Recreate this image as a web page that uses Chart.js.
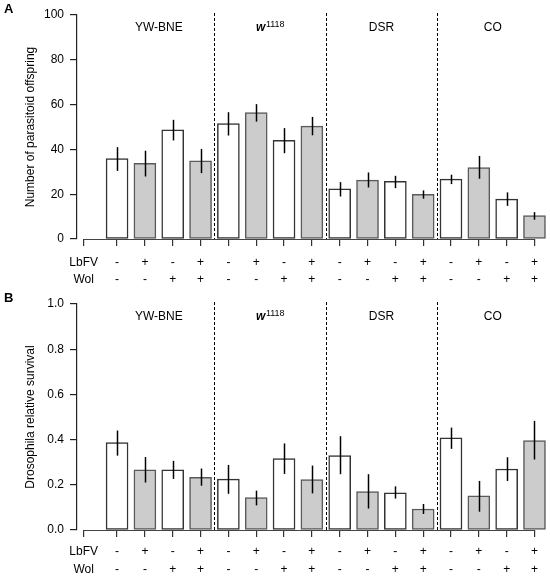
<!DOCTYPE html>
<html lang="en">
<head>
  <meta charset="UTF-8">
  <title>Parasitoid offspring and Drosophila survival</title>
  <style>
    body { margin: 0; background: #fff; }
    .panel { position: absolute; left: 0; width: 550px; height: 288px; }
  </style>
</head>
<body>
  <div class="panel" style="top: 0px;"><canvas id="chart-a" width="550" height="288"></canvas></div>
  <div class="panel" style="top: 288px;"><canvas id="chart-b" width="550" height="288"></canvas></div>
  <script src="https://cdn.jsdelivr.net/npm/chart.js@4.4.1/dist/chart.umd.min.js"></script>
  <script>
    const lines = ['YW-BNE', 'w1118', 'DSR', 'CO']
    const lbfv = ['-', '+', '-', '+', '-', '+', '-', '+', '-', '+', '-', '+', '-', '+', '-', '+']
    const wol = ['-', '-', '+', '+', '-', '-', '+', '+', '-', '-', '+', '+', '-', '-', '+', '+']

    const offspring = [35.9, 33.8, 48.7, 34.9, 51.5, 56.4, 44.1, 50.4, 22.4, 26.3, 25.7, 19.9, 26.7, 31.9, 17.8, 10.4]
    const offspringLow = [30.4, 27.9, 44.0, 29.4, 46.2, 52.4, 38.3, 46.3, 19.0, 23.0, 22.7, 18.0, 24.5, 26.9, 14.8, 8.6]
    const offspringHigh = [41.0, 39.4, 53.2, 40.2, 56.6, 60.2, 49.5, 54.5, 25.4, 29.7, 28.2, 21.7, 28.7, 37.1, 20.8, 12.0]
    const offspringTicks = [0, 20, 40, 60, 80, 100]

    const survival = [0.387, 0.266, 0.266, 0.233, 0.225, 0.143, 0.316, 0.223, 0.329, 0.170, 0.164, 0.093, 0.408, 0.151, 0.270, 0.396]
    const survivalLow = [0.329, 0.210, 0.226, 0.196, 0.160, 0.109, 0.248, 0.162, 0.247, 0.095, 0.139, 0.071, 0.359, 0.081, 0.217, 0.312]
    const survivalHigh = [0.440, 0.323, 0.306, 0.272, 0.288, 0.174, 0.383, 0.285, 0.415, 0.247, 0.193, 0.115, 0.453, 0.217, 0.322, 0.483]
    const survivalTicks = [0, 0.2, 0.4, 0.6, 0.8, 1.0]

    const FONT = '"Liberation Sans", Arial, Helvetica, sans-serif'
    const LABEL_POS = -1.2

    // error bars, strain separators, strain names, panel letter
    const decorations = {
      id: 'decorations',
      afterDatasetsDraw(chart, args, opts) {
        const { ctx, chartArea } = chart
        const x = chart.scales.x
        const y = chart.scales.y
        ctx.save()

        // x axis line only from label tick to last bar
        ctx.strokeStyle = '#444'
        ctx.lineWidth = 1.2
        ctx.beginPath()
        ctx.moveTo(x.getPixelForValue(LABEL_POS), chartArea.bottom + 0.5)
        ctx.lineTo(x.getPixelForValue(opts.values.length - 1), chartArea.bottom + 0.5)
        ctx.stroke()

        // error bars
        ctx.strokeStyle = '#000'
        ctx.lineWidth = 1.5
        opts.values.forEach((v, i) => {
          const px = Math.round(x.getPixelForValue(i)) + 0.5
          ctx.beginPath()
          ctx.moveTo(px, y.getPixelForValue(opts.low[i]))
          ctx.lineTo(px, y.getPixelForValue(opts.high[i]))
          ctx.stroke()
        })

        // dashed separators between strains
        ctx.strokeStyle = '#000'
        ctx.lineWidth = 1
        ctx.setLineDash([3, 2])
        for (let g = 1; g < lines.length; g++) {
          const px = Math.round(x.getPixelForValue(g * 4 - 0.5)) + 0.5
          ctx.beginPath()
          ctx.moveTo(px, chartArea.top - 2)
          ctx.lineTo(px, chartArea.bottom)
          ctx.stroke()
        }
        ctx.setLineDash([])

        // strain names
        ctx.fillStyle = '#000'
        ctx.textBaseline = 'middle'
        const ty = chartArea.top + 13
        lines.forEach((name, g) => {
          const cx = x.getPixelForValue(g * 4 + 1.5)
          if (name === 'w1118') {
            ctx.font = 'italic bold 12px ' + FONT
            const w1 = ctx.measureText('w').width
            ctx.font = '9px ' + FONT
            const w2 = ctx.measureText('1118').width
            const start = cx - (w1 + w2) / 2
            ctx.textAlign = 'left'
            ctx.font = 'italic bold 12px ' + FONT
            ctx.fillText('w', start, ty)
            ctx.font = '9px ' + FONT
            ctx.fillText('1118', start + w1 + 0.5, ty - 3)
          } else {
            ctx.font = '12px ' + FONT
            ctx.textAlign = 'center'
            ctx.fillText(name, cx, ty)
          }
        })

        // panel letter
        ctx.font = 'bold 13px ' + FONT
        ctx.textAlign = 'left'
        ctx.textBaseline = 'top'
        ctx.fillText(opts.letter, 4, opts.letterY)
        ctx.restore()
      }
    }

    function makePanel(id, cfg) {
      const fills = lbfv.map(s => s === '+' ? '#cccccc' : '#ffffff')
      const borders = lbfv.map(s => s === '+' ? '#5a5a5a' : '#333333')
      return new Chart(document.getElementById(id), {
        type: 'bar',
        data: {
          datasets: [{
            data: cfg.values.map((v, i) => ({ x: i, y: v })),
            backgroundColor: fills,
            borderColor: borders,
            borderWidth: 1.5,
            borderSkipped: false,
            barThickness: 22
          }]
        },
        plugins: [decorations],
        options: {
          responsive: false,
          animation: false,
          events: [],
          layout: { padding: { top: cfg.top, right: 3, left: 0, bottom: 0 } },
          plugins: {
            legend: { display: false },
            tooltip: { enabled: false },
            decorations: { values: cfg.values, low: cfg.low, high: cfg.high, letter: cfg.letter, letterY: cfg.letterY }
          },
          scales: {
            x: {
              type: 'linear',
              min: -1.44,
              max: 15.45,
              offset: false,
              afterBuildTicks: scale => {
                scale.ticks = [LABEL_POS].concat(cfg.values.map((v, i) => i)).map(v => ({ value: v }))
              },
              afterFit: scale => { scale.height = cfg.xHeight },
              ticks: {
                autoSkip: false,
                maxRotation: 0,
                color: '#000',
                padding: cfg.tickPad,
                font: { family: FONT, size: 12, lineHeight: cfg.lineHeight + 'px' },
                callback: (value, index) => index === 0 ? ['LbFV', 'Wol'] : [lbfv[index - 1], wol[index - 1]]
              },
              grid: { display: true, offset: false, drawOnChartArea: false, tickLength: 7, color: '#333', lineWidth: 1.2 },
              border: { display: false }
            },
            y: {
              min: 0,
              max: cfg.ticks[cfg.ticks.length - 1],
              afterBuildTicks: scale => { scale.ticks = cfg.ticks.map(v => ({ value: v })) },
              afterFit: scale => { scale.width = 77 },
              ticks: {
                color: '#000',
                padding: 6,
                font: { family: FONT, size: 12 },
                callback: cfg.format
              },
              title: {
                display: true,
                text: cfg.title,
                color: '#000',
                font: { family: FONT, size: 12 },
                padding: { top: 23, bottom: 0 }
              },
              grid: { display: true, drawOnChartArea: false, tickLength: 7, color: '#222', lineWidth: 1.2 },
              border: { display: true, color: '#222', width: 1.2 }
            }
          }
        }
      })
    }

    makePanel('chart-a', {
      values: offspring, low: offspringLow, high: offspringHigh, ticks: offspringTicks,
      format: v => String(v),
      title: 'Number of parasitoid offspring',
      letter: 'A', letterY: 3,
      top: 15, xHeight: 49, tickPad: 8, lineHeight: 17
    })

    makePanel('chart-b', {
      values: survival, low: survivalLow, high: survivalHigh, ticks: survivalTicks,
      format: v => v.toFixed(1),
      title: 'Drosophila relative survival',
      letter: 'B', letterY: 4,
      top: 16, xHeight: 46, tickPad: 6, lineHeight: 18
    })
  </script>
</body>
</html>
